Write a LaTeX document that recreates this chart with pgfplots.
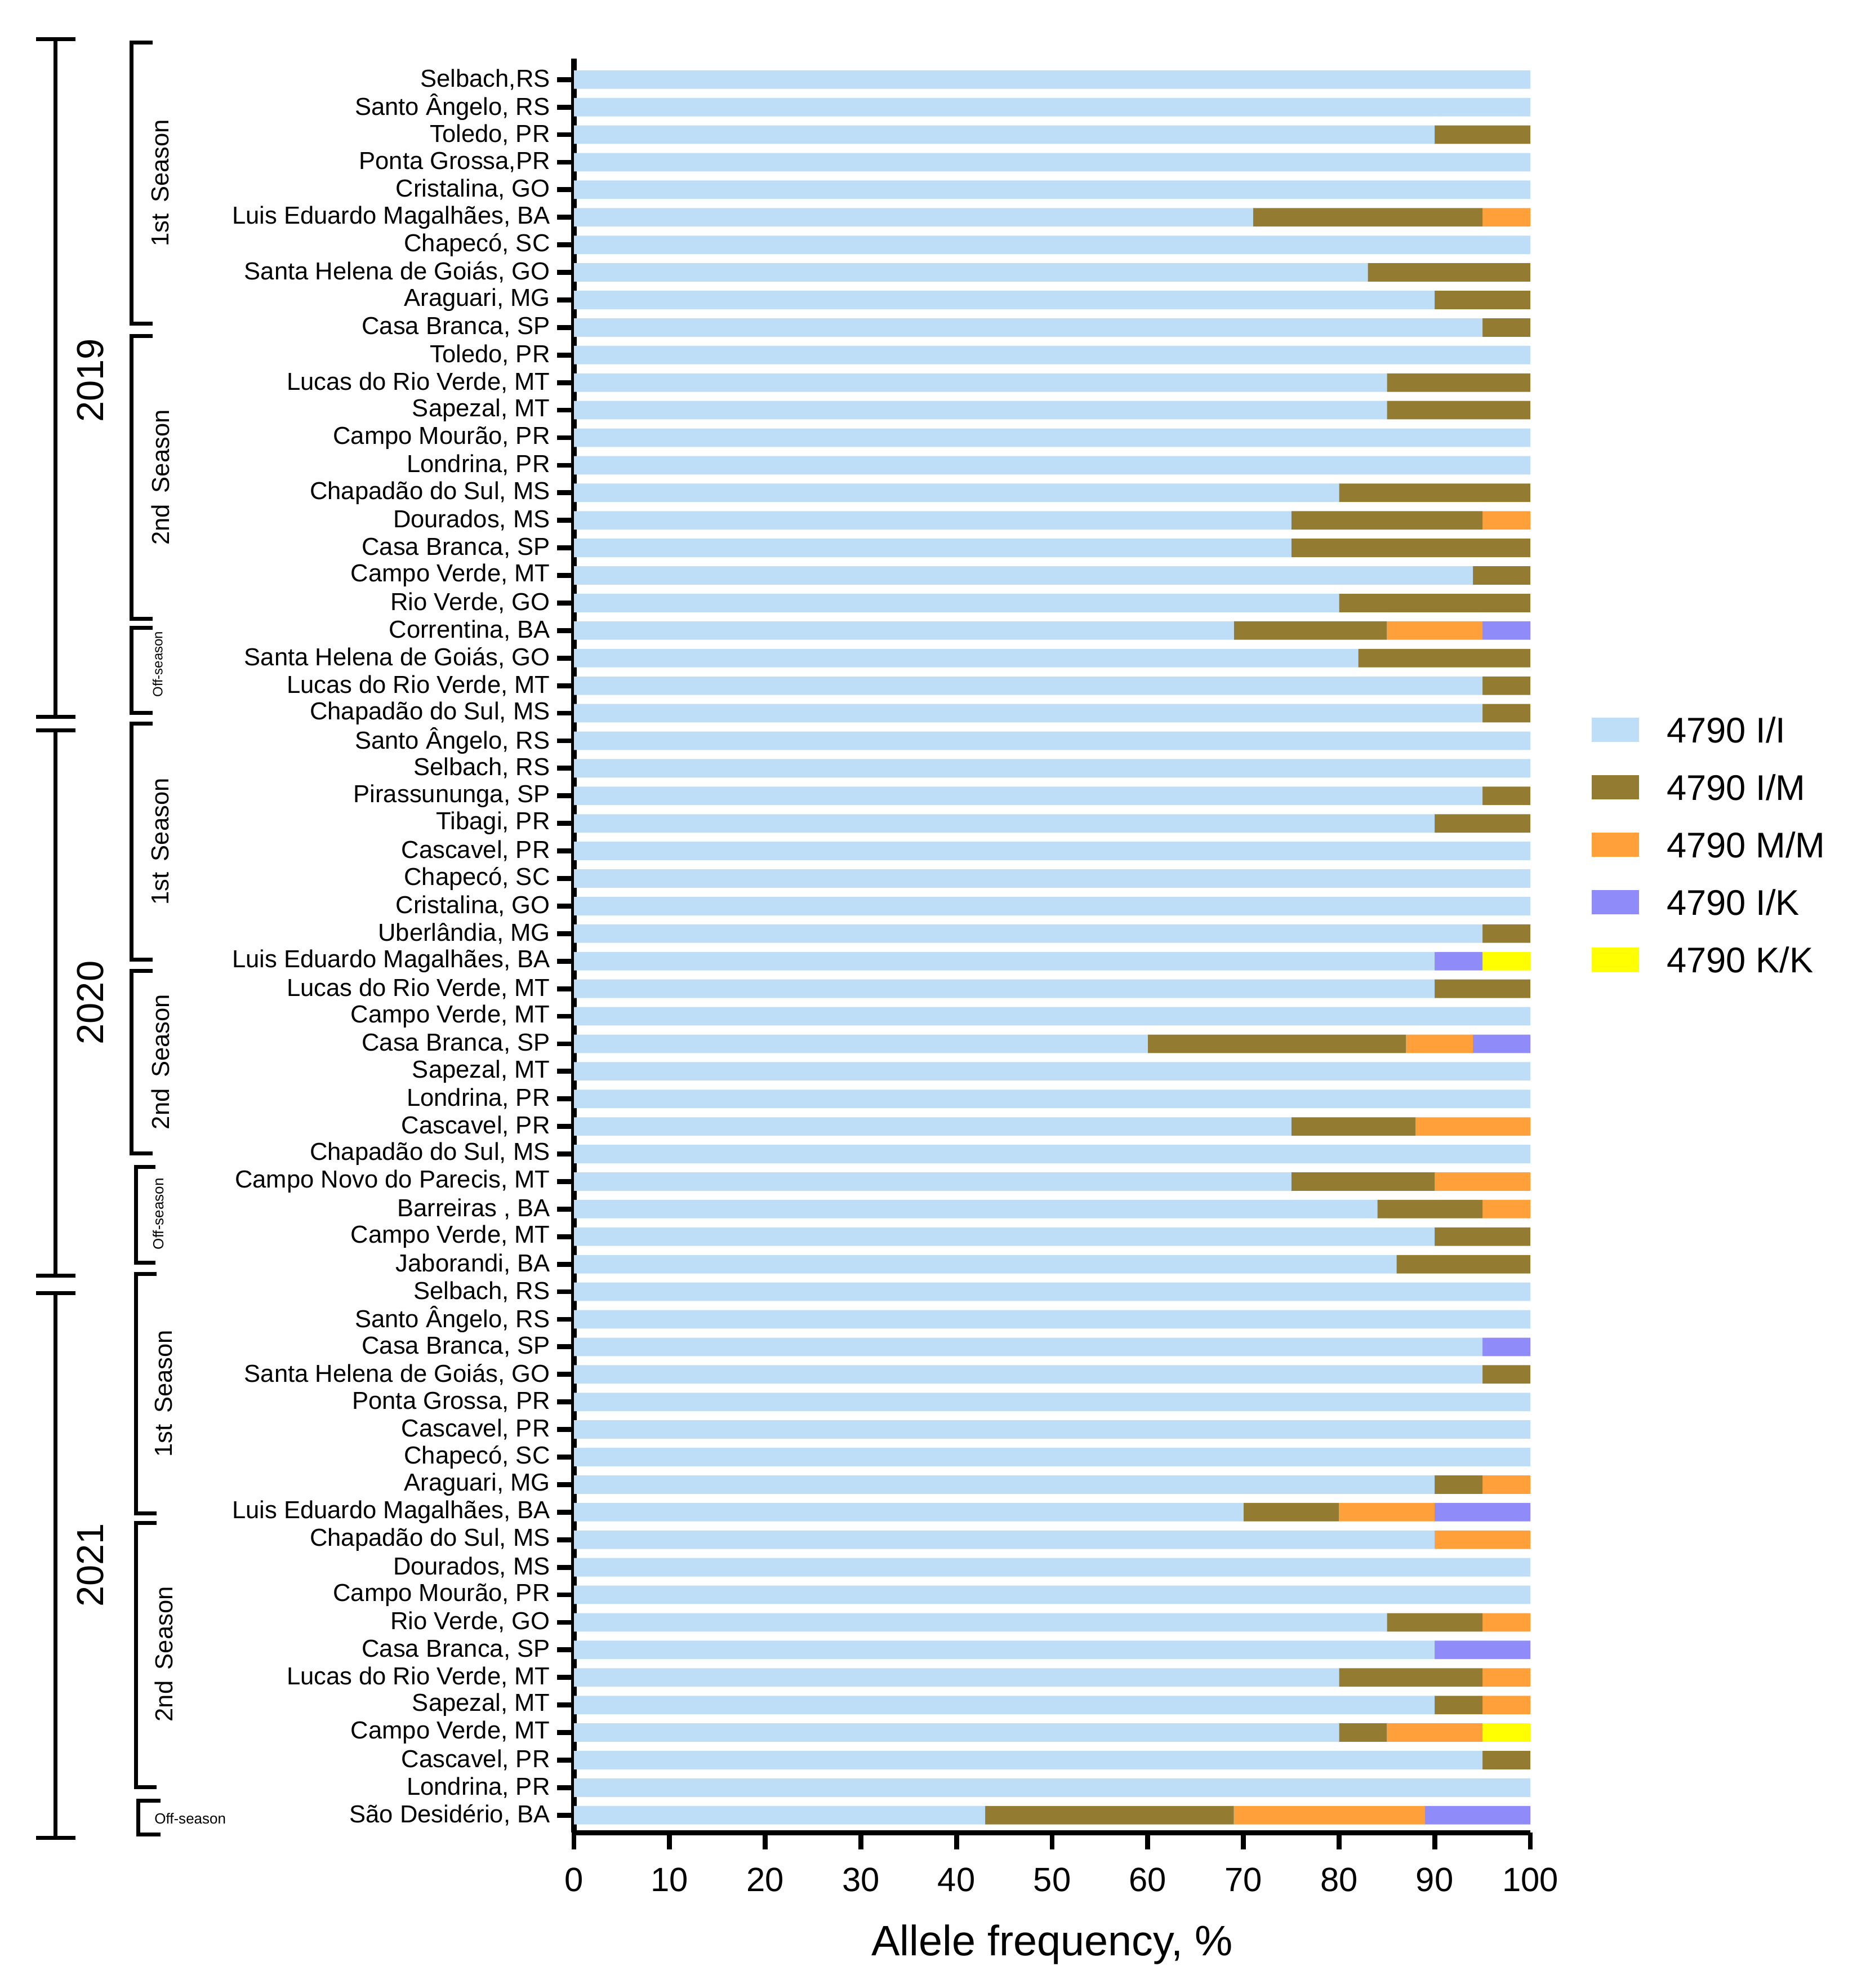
\documentclass[border=0pt]{standalone}
\usepackage{fontspec}
\setmainfont{Liberation Sans}
\usepackage{pgfplots}
\usepackage{pgfplotstable}
\pgfplotsset{compat=1.18}

\definecolor{cII}{HTML}{BEDDF6}
\definecolor{cIM}{HTML}{937C31}
\definecolor{cMM}{HTML}{FFA03A}
\definecolor{cIK}{HTML}{8F8CF9}
\definecolor{cKK}{HTML}{FFFF00}

% row index (top to bottom) and allele frequencies, %
\pgfplotstableread{
y  II  IM  MM  IK  KK
0  100 0   0   0   0
1  100 0   0   0   0
2  90  10  0   0   0
3  100 0   0   0   0
4  100 0   0   0   0
5  71  24  5   0   0
6  100 0   0   0   0
7  83  17  0   0   0
8  90  10  0   0   0
9  95  5   0   0   0
10 100 0   0   0   0
11 85  15  0   0   0
12 85  15  0   0   0
13 100 0   0   0   0
14 100 0   0   0   0
15 80  20  0   0   0
16 75  20  5   0   0
17 75  25  0   0   0
18 94  6   0   0   0
19 80  20  0   0   0
20 69  16  10  5   0
21 82  18  0   0   0
22 95  5   0   0   0
23 95  5   0   0   0
24 100 0   0   0   0
25 100 0   0   0   0
26 95  5   0   0   0
27 90  10  0   0   0
28 100 0   0   0   0
29 100 0   0   0   0
30 100 0   0   0   0
31 95  5   0   0   0
32 90  0   0   5   5
33 90  10  0   0   0
34 100 0   0   0   0
35 60  27  7   6   0
36 100 0   0   0   0
37 100 0   0   0   0
38 75  13  12  0   0
39 100 0   0   0   0
40 75  15  10  0   0
41 84  11  5   0   0
42 90  10  0   0   0
43 86  14  0   0   0
44 100 0   0   0   0
45 100 0   0   0   0
46 95  0   0   5   0
47 95  5   0   0   0
48 100 0   0   0   0
49 100 0   0   0   0
50 100 0   0   0   0
51 90  5   5   0   0
52 70  10  10  10  0
53 90  0   10  0   0
54 100 0   0   0   0
55 100 0   0   0   0
56 85  10  5   0   0
57 90  0   0   10  0
58 80  15  5   0   0
59 90  5   5   0   0
60 80  5   10  0   5
61 95  5   0   0   0
62 100 0   0   0   0
63 43  26  20  11  0
}\alleles

\newcommand{\yearbr}[2]{\draw (64,#1) -- (134,#1) (99,#1) -- (99,#2) (64,#2) -- (134,#2);}
\newcommand{\seasbr}[4]{\draw (#2,#3) -- (#1,#3) -- (#1,#4) -- (#2,#4);}

\begin{document}
\begin{tikzpicture}
\path[use as bounding box] (0,0) rectangle (32.97cm,-35.29cm);
\begin{axis}[
  at={(10.19cm,-32.53cm)}, anchor=south west,
  scale only axis, width=16.98cm, height=31.49cm,
  xbar stacked, bar width=0.67,
  xmin=0, xmax=100, ymin=-0.76, ymax=63.63, y dir=reverse,
  enlargelimits=false,
  axis x line*=bottom, axis y line*=left,
  axis line style={line width=2.6pt},
  xtick={0,10,...,100}, ytick={0,...,63},
  yticklabels={{Selbach,RS},{Santo Ângelo, RS},{Toledo, PR},{Ponta Grossa,PR},{Cristalina, GO},
    {Luis Eduardo Magalhães, BA},{Chapecó, SC},{Santa Helena de Goiás, GO},{Araguari, MG},{Casa Branca, SP},
    {Toledo, PR},{Lucas do Rio Verde, MT},{Sapezal, MT},{Campo Mourão, PR},{Londrina, PR},
    {Chapadão do Sul, MS},{Dourados, MS},{Casa Branca, SP},{Campo Verde, MT},{Rio Verde, GO},
    {Correntina, BA},{Santa Helena de Goiás, GO},{Lucas do Rio Verde, MT},{Chapadão do Sul, MS},
    {Santo Ângelo, RS},{Selbach, RS},{Pirassununga, SP},{Tibagi, PR},{Cascavel, PR},{Chapecó, SC},
    {Cristalina, GO},{Uberlândia, MG},{Luis Eduardo Magalhães, BA},{Lucas do Rio Verde, MT},
    {Campo Verde, MT},{Casa Branca, SP},{Sapezal, MT},{Londrina, PR},{Cascavel, PR},
    {Chapadão do Sul, MS},{Campo Novo do Parecis, MT},{Barreiras , BA},{Campo Verde, MT},{Jaborandi, BA},
    {Selbach, RS},{Santo Ângelo, RS},{Casa Branca, SP},{Santa Helena de Goiás, GO},{Ponta Grossa, PR},
    {Cascavel, PR},{Chapecó, SC},{Araguari, MG},{Luis Eduardo Magalhães, BA},{Chapadão do Sul, MS},
    {Dourados, MS},{Campo Mourão, PR},{Rio Verde, GO},{Casa Branca, SP},{Lucas do Rio Verde, MT},
    {Sapezal, MT},{Campo Verde, MT},{Cascavel, PR},{Londrina, PR},{São Desidério, BA}},
  tick align=outside, major tick length=0.3cm,
  tick style={line width=2.5pt, black},
  xticklabel style={font=\fontsize{17}{20}\selectfont, yshift=-0.2cm},
  yticklabel style={font=\fontsize{12.4}{14}\selectfont},
  /pgf/number format/assume math mode=true,
  xlabel={Allele frequency, \%},
  xlabel style={font=\fontsize{21.5}{24}\selectfont, at={(axis description cs:0.5,-0.063)}, anchor=center},
  legend cell align=left,
  legend style={draw=none, fill=none, at={(1.064,0.629)}, anchor=north west, inner sep=0pt,
    font=\fontsize{18}{20}\selectfont, column sep=0.49cm, row sep=16pt,
    nodes={inner sep=0pt, text height=13pt, text depth=0pt}},
]
\addplot[fill=cII, draw=none, legend image code/.code={\fill[cII] (0cm,-0.215cm) rectangle (0.84cm,0.215cm);}] table[x=II, y=y] {\alleles};
\addplot[fill=cIM, draw=none, legend image code/.code={\fill[cIM] (0cm,-0.215cm) rectangle (0.84cm,0.215cm);}] table[x=IM, y=y] {\alleles};
\addplot[fill=cMM, draw=none, legend image code/.code={\fill[cMM] (0cm,-0.215cm) rectangle (0.84cm,0.215cm);}] table[x=MM, y=y] {\alleles};
\addplot[fill=cIK, draw=none, legend image code/.code={\fill[cIK] (0cm,-0.215cm) rectangle (0.84cm,0.215cm);}] table[x=IK, y=y] {\alleles};
\addplot[fill=cKK, draw=none, legend image code/.code={\fill[cKK] (0cm,-0.215cm) rectangle (0.84cm,0.215cm);}] table[x=KK, y=y] {\alleles};
\legend{4790 I/I, 4790 I/M, 4790 M/M, 4790 I/K, 4790 K/K}
\end{axis}
\begin{scope}[x=0.01cm, y=-0.01cm, line width=2pt]
  % year brackets
  \yearbr{70}{1273}
  \yearbr{1297}{2266}
  \yearbr{2297}{3264}
  \node[rotate=90, font=\fontsize{19}{22}\selectfont] at (161,676) {2019};
  \node[rotate=90, font=\fontsize{19}{22}\selectfont] at (161,1781) {2020};
  \node[rotate=90, font=\fontsize{19}{22}\selectfont] at (161,2780) {2021};
  % season brackets
  \seasbr{234}{271}{76}{575}
  \seasbr{234}{271}{597}{1099}
  \seasbr{234}{271}{1115}{1266}
  \seasbr{234}{271}{1285}{1704}
  \seasbr{234}{271}{1724}{2049}
  \seasbr{242}{276}{2073}{2243}
  \seasbr{242}{278}{2263}{2688}
  \seasbr{242}{278}{2705}{3174}
  \seasbr{246}{285}{3198}{3258}
  \begin{scope}[every node/.style={rotate=90, font=\fontsize{12.4}{14}\selectfont}]
    \node at (285,325) {1st\hspace{0.45em}Season};
    \node at (285,848) {2nd\hspace{0.45em}Season};
    \node at (285,1495) {1st\hspace{0.45em}Season};
    \node at (285,1886) {2nd\hspace{0.45em}Season};
    \node at (291,2475) {1st\hspace{0.45em}Season};
    \node at (291,2938) {2nd\hspace{0.45em}Season};
  \end{scope}
  \node[rotate=90, font=\fontsize{6.8}{8}\selectfont] at (280,1180) {Off-season};
  \node[rotate=90, font=\fontsize{7.4}{8}\selectfont] at (281,2156) {Off-season};
  \node[anchor=west, inner sep=0pt, font=\fontsize{7.4}{8}\selectfont] at (271,3230) {Off-season};
\end{scope}
\end{tikzpicture}
\end{document}
